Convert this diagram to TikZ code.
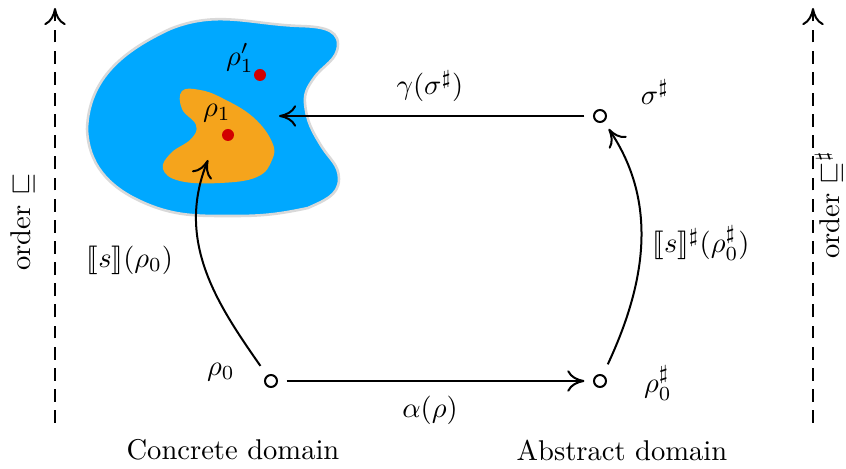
\documentclass[tikz,border=0pt]{standalone}
\usepackage{amssymb}
\usepackage{stmaryrd}
\usetikzlibrary{arrows.meta}
\definecolor{blobblue}{RGB}{0,168,255}
\definecolor{bloborange}{RGB}{245,164,28}
\definecolor{dotred}{RGB}{210,0,0}
\begin{document}
\begin{tikzpicture}[x=0.35pt,y=0.35pt,
  tip/.style={-{Computer Modern Rightarrow[length=6pt,width=7.5pt]}},
  conn/.style={line width=0.7pt, tip},
  axis/.style={line width=0.7pt, dash pattern=on 4.5pt off 2.9pt, tip},
  pt/.style={circle, draw, line width=0.7pt, inner sep=0pt, minimum size=4.2pt},
  lbl/.style={inner sep=0pt}]
\useasboundingbox (0,0) rectangle (846,469);
% blobs
\draw[gray!30, line width=0.9pt, fill=blobblue]
 (87,340) to[out=88,in=205] (170,440) to[out=22,in=178] (300,443)
 to[out=-2,in=90] (338,425) to[out=-90,in=55] (314,391) to[out=-125,in=95] (305,366)
 to[out=-85,in=122] (322,322) to[out=-58,in=90] (339,290) to[out=-90,in=25] (308,261)
 to[out=-168,in=0] (235,253) to[out=180,in=-25] (140,268) to[out=155,in=-88] cycle;
\fill[bloborange] plot[smooth cycle, tension=0.7] coordinates {
 (182,378) (200,379) (222,371) (253,352) (272,327) (272,309) (257,292) (220,286)
 (180,288) (163,300) (171,316) (191,330) (196,344) (182,360)};
\fill[dotred] (260,394) circle (6);
\fill[dotred] (228,334) circle (6);
\node[lbl] (rho1p) at (240,411) {$\rho'_1$};
\node[lbl] (rho1) at (217,356) {$\rho_1$};
% axes
\coordinate (lb) at (55,46);
\coordinate (lt) at (55,461);
\coordinate (rb) at (813,46);
\coordinate (rt) at (813,461);
\draw[axis] (lb) -- (lt);
\draw[axis] (rb) -- (rt);
\node[lbl, rotate=90] (ordl) at (23,247) {order $\sqsubseteq$};
\node[lbl, rotate=90] (ordr) at (829,264) {order $\sqsubseteq^\sharp$};
% points
\node[pt] (r0) at (271,88) {};
\node[pt] (r0s) at (600,88) {};
\node[pt] (ss) at (600,353) {};
\coordinate (gend) at (279,353);
\coordinate (send) at (208,309);
\node[lbl] (r0l) at (221,97) {$\rho_0$};
\node[lbl] (r0sl) at (658,86) {$\rho_0^\sharp$};
\node[lbl] (ssl) at (655,377) {$\sigma^\sharp$};
% connectors
\draw[conn, shorten <=3pt, shorten >=3pt] (r0) -- (r0s);
\node[lbl] (al) at (430,59) {$\alpha(\rho)$};
\draw[conn, shorten <=3pt] (ss) -- (gend);
\node[lbl] (gl) at (430,383) {$\gamma(\sigma^\sharp)$};
\draw[conn, shorten <=4pt] (r0) to[out=125, in=-112] (send);
\node[lbl] (sl) at (130,209) {$\llbracket s\rrbracket(\rho_0)$};
\draw[conn, shorten <=4pt, shorten >=3pt] (r0s) to[out=65, in=-56] (ss);
\node[lbl] (ssl2) at (701,226) {$\llbracket s\rrbracket^\sharp(\rho_0^\sharp)$};
% domain titles
\node[lbl] (cd) at (233,19) {Concrete domain};
\node[lbl] (ad) at (622,19) {Abstract domain};
\end{tikzpicture}
\end{document}
